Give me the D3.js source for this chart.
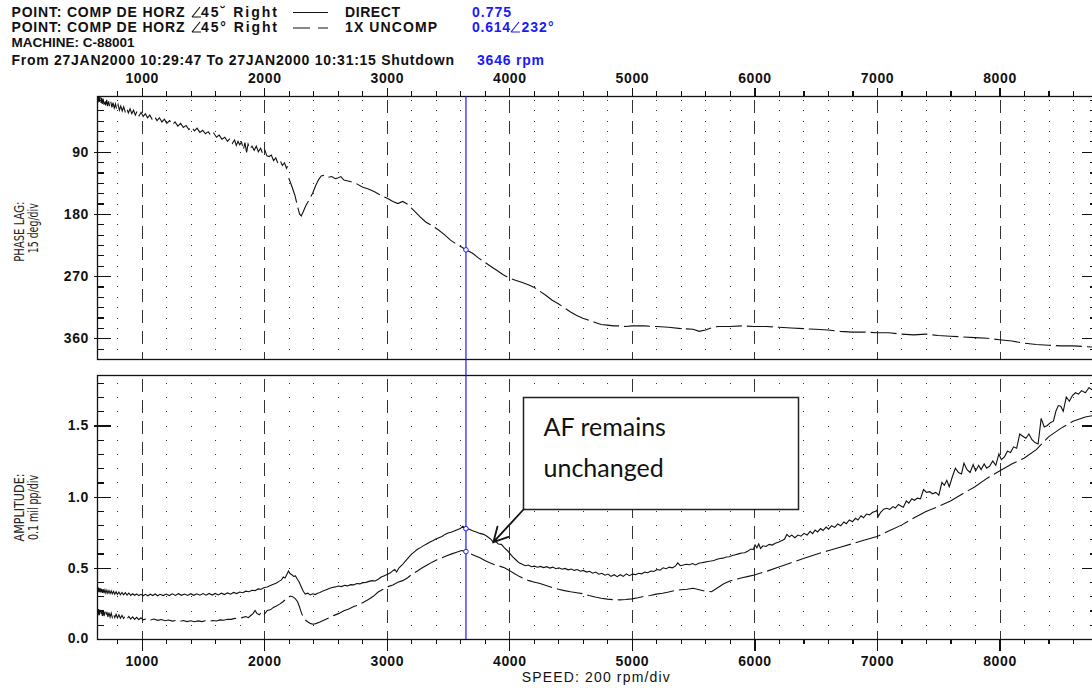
<!DOCTYPE html>
<html>
<head>
<meta charset="utf-8">
<script src="https://cdn.jsdelivr.net/npm/d3@7"></script>
<style>
  body { margin: 0; background: #fff; }
  svg { display: block; }
</style>
</head>
<body>
<svg id="chart" width="1092" height="688"></svg>
<script>
//// DATA

const SPEED_LABELS = [1000, 2000, 3000, 4000, 5000, 6000, 7000, 8000];
const PHASE_LABELS = [90, 180, 270, 360];
const AMP_LABELS = [0.0, 0.5, 1.0, 1.5];

const SPEED_DIV = 200;   // rpm/div
const PHASE_DIV = 15;    // deg/div
const AMP_DIV = 0.1;     // mil pp/div

const CURSOR_RPM = 3646;
const CURSOR_DIRECT = 0.775;
const CURSOR_UNCOMP = 0.614;
const CURSOR_PHASE = 232;

const NOTE_LINES = ["AF remains", "unchanged"];
const NOTE_TARGET = [3870, 0.68];   // rpm, amplitude the arrow points at

// 1X phase lag (deg) vs speed (rpm); null = gap in the record
const PHASE_1X = [
  [637,10],[642,19],[648,9],[654,18],[660,11],[666,20],[672,12],[678,21],[685,13],[692,22],
  [699,14],[706,23],[714,15],[722,24],[730,17],[739,25],[748,18],[757,26],[766,19],[776,27],
  [786,21],[796,29],[807,22],[818,30],[829,24],[841,31],[853,25],[865,32],[878,27],[891,34],
  [905,28],[919,35],[933,30],[948,37],[963,31],[979,38],[995,33],[1012,39],[1030,35],[1048,41],
  [1066,37],[1085,43],[1105,39],[1125,45],[1145,41],[1165,47],[1185,43],[1205,49],[1228,45],[1250,51],
  [1272,47],[1295,53],[1318,49],[1340,55],[1362,52],[1385,58],[1408,54],[1430,60],[1452,56],[1475,62],
  [1498,59],[1520,64],[1543,61],[1566,67],[1588,63],[1610,69],[1632,66],[1655,72],[1678,69],[1700,75],
  [1720,71],[1740,78],[1758,73],[1772,81],[1786,75],[1800,80],[1815,76],[1830,87],[1842,77],[1856,91],
  [1868,79],[1882,86],[1900,82],[1918,88],[1935,82],[1952,90],[1970,85],[1988,93],[2005,88],[2022,96],
  [2040,97],[2058,95],[2076,103],[2094,99],[2112,107],[2130,103],[2148,110],[2165,106],[2182,114],[2190,111],
  [2195,null],
  [2200,128],[2225,140],[2250,153],[2270,168],[2288,180],[2302,183],[2318,177],[2340,168],[2365,160],[2395,150],
  [2420,139],[2445,130],[2465,125],[2490,124],[2520,127],[2550,126],[2580,129],[2600,128],[2625,126],[2650,131],
  [2700,133],[2750,136],[2800,141],[2850,144],[2900,148],[2950,153],[3000,157],[3050,162],[3090,165],[3130,162],
  [3170,166],[3220,175],[3270,184],[3320,192],[3370,197],[3420,203],[3470,210],[3520,218],[3570,224],[3610,228],
  [3646,232],[3700,237],[3750,244],[3800,250],[3850,256],[3900,262],[3950,268],[4000,273],[4050,276],[4100,279],
  [4150,282],[4200,286],[4250,292],[4300,298],[4350,305],[4400,310],[4450,316],[4500,322],[4550,327],[4600,331],
  [4650,334],[4700,337],[4750,340],[4800,341],[4850,342],[4900,342],[4950,343],[5000,342],[5100,342],[5200,343],
  [5300,344],[5400,346],[5500,347],[5550,350],[5600,348],[5650,345],[5700,343],[5800,343],[5900,342],[6000,343],
  [6100,343],[6200,344],[6300,345],[6400,346],[6500,347],[6600,348],[6700,350],[6800,351],[6900,351],[7000,352],
  [7100,352],[7200,354],[7300,355],[7400,354],[7500,356],[7600,357],[7700,358],[7800,359],[7900,360],[8000,362],
  [8100,364],[8200,367],[8300,369],[8400,370],[8500,371],[8600,371],[8700,372],[8800,373]
];

// Direct (overall) amplitude, mil pp
const AMP_DIRECT = [
  [637,.36],[642,.328],[648,.362],[654,.33],[660,.358],[666,.328],[672,.352],[679,.324],[686,.35],[693,.323],
  [700,.346],[708,.322],[716,.343],[724,.321],[733,.34],[742,.319],[751,.338],[760,.317],[770,.335],[780,.315],
  [791,.332],[802,.313],[814,.33],[826,.311],[839,.327],[852,.31],[866,.325],[880,.308],[895,.323],[910,.306],
  [926,.318],[942,.307],[959,.316],[976,.305],[994,.314],[1012,.304],[1030,.314],[1050,.304],[1070,.315],[1090,.305],
  [1110,.316],[1130,.304],[1150,.314],[1175,.305],[1200,.316],[1225,.305],[1250,.317],[1275,.306],[1300,.318],[1325,.307],
  [1350,.316],[1375,.306],[1400,.318],[1425,.307],[1450,.318],[1475,.308],[1500,.319],[1525,.308],[1550,.32],[1575,.309],
  [1600,.32],[1625,.31],[1650,.322],[1675,.312],[1700,.324],[1725,.315],[1750,.327],[1775,.319],[1800,.33],[1825,.325],
  [1850,.336],[1875,.332],[1900,.342],[1925,.34],[1950,.352],[1975,.35],[2000,.362],[2025,.365],[2050,.376],[2075,.385],
  [2100,.393],[2120,.405],[2140,.415],[2155,.435],[2170,.428],[2185,.455],[2198,.478],[2210,.46],[2225,.452],[2240,.44],
  [2255,.443],[2270,.42],[2285,.4],[2300,.37],[2318,.335],[2335,.316],[2355,.322],[2375,.31],[2395,.318],[2415,.312],
  [2435,.322],[2455,.326],[2480,.338],[2505,.346],[2530,.355],[2555,.362],[2580,.366],[2605,.372],[2630,.368],[2655,.377],
  [2680,.373],[2705,.382],[2730,.38],[2755,.39],[2780,.387],[2805,.396],[2830,.398],[2855,.405],[2880,.41],[2905,.408],
  [2930,.42],[2955,.435],[2980,.445],[3005,.455],[3030,.465],[3050,.48],[3065,.488],[3080,.47],[3100,.5],[3125,.52],
  [3150,.545],[3175,.57],[3200,.595],[3225,.612],[3250,.63],[3275,.642],[3300,.656],[3325,.668],[3350,.68],[3375,.69],
  [3400,.702],[3425,.712],[3450,.72],[3475,.735],[3500,.745],[3525,.75],[3550,.758],[3575,.768],[3600,.776],[3620,.792],
  [3646,.775],[3670,.772],[3700,.76],[3730,.752],[3760,.742],[3790,.735],[3820,.72],[3850,.7],[3870,.68],[3890,.685],
  [3910,.668],[3935,.665],[3960,.64],[3985,.62],[4005,.6],[4030,.575],[4055,.555],[4080,.535],[4105,.525],[4130,.515],
  [4155,.52],[4180,.508],[4205,.512],[4230,.504],[4255,.51],[4280,.502],[4305,.508],[4330,.498],[4355,.505],[4380,.494],
  [4405,.5],[4430,.49],[4455,.496],[4480,.486],[4505,.492],[4530,.482],[4555,.488],[4580,.476],[4605,.482],[4630,.47],
  [4655,.476],[4680,.462],[4705,.47],[4730,.455],[4755,.462],[4780,.448],[4805,.456],[4830,.44],[4855,.452],[4880,.438],
  [4905,.452],[4930,.44],[4955,.458],[4980,.445],[5005,.456],[5030,.452],[5055,.462],[5080,.458],[5105,.47],[5130,.466],
  [5155,.478],[5180,.474],[5205,.488],[5230,.484],[5255,.5],[5280,.494],[5305,.505],[5330,.5],[5355,.512],[5375,.535],
  [5395,.515],[5420,.52],[5445,.525],[5470,.522],[5495,.53],[5520,.52],[5545,.532],[5570,.536],[5595,.54],[5620,.545],
  [5645,.548],[5670,.552],[5695,.56],[5720,.566],[5745,.568],[5770,.576],[5795,.578],[5820,.586],[5845,.592],[5870,.598],
  [5895,.604],[5920,.606],[5945,.616],[5970,.632],[5990,.628],[6005,.66],[6020,.64],[6035,.668],[6050,.636],[6070,.655],
  [6095,.65],[6120,.665],[6145,.66],[6170,.672],[6195,.68],[6220,.69],[6245,.7],[6265,.735],[6285,.718],[6305,.73],
  [6330,.712],[6355,.73],[6380,.722],[6405,.742],[6430,.73],[6455,.756],[6475,.74],[6495,.765],[6515,.752],[6540,.776],
  [6560,.762],[6585,.786],[6605,.772],[6630,.796],[6655,.784],[6680,.808],[6705,.795],[6730,.822],[6750,.81],[6775,.836],
  [6800,.824],[6825,.848],[6845,.836],[6870,.866],[6890,.852],[6915,.878],[6940,.872],[6965,.89],[6990,.898],[7000,.905],
  [7010,.86],[7030,.89],[7055,.912],[7080,.918],[7105,.91],[7130,.93],[7150,.92],[7175,.945],[7195,.935],[7215,.925],
  [7240,.97],[7260,.955],[7285,.985],[7305,.975],[7330,.99],[7355,.985],[7380,1.05],[7405,1.03],[7430,1.035],[7455,1.02],
  [7480,1.03],[7505,1.01],[7530,1.1],[7550,1.08],[7570,1.115],[7590,1.07],[7615,1.14],[7640,1.2],[7665,1.17],[7690,1.16],
  [7710,1.235],[7735,1.19],[7760,1.17],[7785,1.225],[7805,1.18],[7830,1.22],[7850,1.19],[7875,1.23],[7895,1.2],[7920,1.215],
  [7945,1.25],[7970,1.22],[7995,1.3],[8015,1.26],[8040,1.28],[8065,1.32],[8090,1.31],[8115,1.35],[8140,1.34],[8165,1.44],
  [8190,1.425],[8215,1.41],[8240,1.44],[8265,1.4],[8290,1.38],[8315,1.37],[8340,1.55],[8365,1.49],[8390,1.5],[8415,1.52],
  [8440,1.53],[8460,1.6],[8480,1.64],[8500,1.635],[8520,1.6],[8545,1.7],[8570,1.67],[8595,1.71],[8620,1.73],[8645,1.72],
  [8670,1.745],[8700,1.73],[8730,1.765],[8760,1.75],[8800,1.77]
];

// 1X uncompensated amplitude, mil pp
const AMP_1X = [
  [637,.205],[642,.165],[648,.21],[654,.168],[660,.205],[666,.165],[672,.2],[679,.162],[686,.197],[693,.16],
  [700,.193],[708,.158],[716,.19],[724,.156],[733,.186],[742,.154],[751,.182],[760,.152],[770,.178],[780,.15],
  [791,.174],[802,.148],[814,.17],[826,.146],[839,.166],[852,.144],[866,.162],[880,.142],[895,.158],[910,.14],
  [926,.155],[942,.138],[959,.152],[976,.136],[994,.149],[1012,.135],[1040,.143],[1070,.133],[1100,.14],[1130,.131],
  [1160,.137],[1190,.128],[1220,.133],[1250,.126],[1280,.131],[1310,.124],[1340,.13],[1370,.122],[1400,.128],[1430,.121],
  [1460,.127],[1490,.122],[1520,.128],[1550,.124],[1580,.13],[1610,.127],[1640,.134],[1670,.132],[1700,.139],[1730,.138],
  [1760,.145],[1790,.143],[1820,.15],[1850,.158],[1870,.15],[1890,.165],[1910,.18],[1925,.2],[1940,.18],[1960,.17],
  [1980,.19],[2000,.172],[2025,.2],[2050,.205],[2075,.222],[2100,.232],[2125,.245],[2150,.26],[2175,.278],[2200,.295],
  [2215,.302],[2235,.296],[2255,.282],[2272,.262],[2288,.225],[2305,.18],[2322,.148],[2340,.13],[2360,.118],[2380,.108],
  [2400,.104],[2420,.108],[2450,.118],[2490,.134],[2530,.15],[2570,.166],[2610,.18],[2650,.198],[2690,.21],[2730,.228],
  [2770,.24],[2810,.258],[2850,.278],[2890,.3],[2930,.33],[2970,.35],[3010,.368],[3050,.38],[3090,.398],[3130,.41],
  [3170,.43],[3210,.458],[3250,.478],[3290,.5],[3330,.52],[3370,.54],[3410,.556],[3450,.57],[3490,.585],[3530,.598],
  [3570,.61],[3610,.622],[3646,.614],[3680,.6],[3720,.585],[3760,.57],[3800,.552],[3840,.536],[3880,.522],[3920,.512],
  [3960,.5],[4000,.482],[4040,.46],[4080,.44],[4120,.425],[4160,.41],[4200,.4],[4250,.39],[4300,.376],[4350,.362],
  [4400,.35],[4450,.34],[4500,.332],[4550,.325],[4600,.318],[4650,.305],[4700,.295],[4750,.286],[4800,.28],[4850,.276],
  [4900,.275],[4950,.278],[5000,.282],[5050,.29],[5100,.3],[5150,.306],[5200,.315],[5250,.322],[5300,.33],[5350,.34],
  [5400,.346],[5450,.35],[5500,.356],[5550,.346],[5600,.336],[5650,.332],[5700,.36],[5750,.388],[5800,.408],[5850,.42],
  [5900,.43],[5950,.44],[6000,.45],[6100,.476],[6200,.506],[6300,.536],[6400,.566],[6500,.594],[6600,.62],[6700,.645],
  [6800,.67],[6900,.695],[7000,.72],[7100,.76],[7200,.8],[7300,.85],[7400,.895],[7500,.93],[7600,.97],[7700,1.02],
  [7800,1.07],[7900,1.13],[8000,1.18],[8100,1.23],[8200,1.27],[8300,1.33],[8400,1.42],[8500,1.48],[8600,1.53],[8700,1.56],
  [8800,1.575]
];

//// LAYOUT

const PLOT_LEFT = 97, PLOT_RIGHT = 1097;
const PHASE_TOP = 96, PHASE_BOTTOM = 359;
const AMP_TOP = 375, AMP_BOTTOM = 639;
const BLUE = "#1a1aff";
const TICK_FONT = "'Liberation Sans', Arial, sans-serif";

const x = d3.scaleLinear().domain([1000, 8000]).range([141.7, 999.5]);
const yPhase = d3.scaleLinear().domain([90, 360]).range([151.7, 338.3]);
const yAmp = d3.scaleLinear().domain([0, 1.5]).range([639, 425.5]);

const xMinor = d3.range(800, 8801, SPEED_DIV);
const phaseMinor = d3.range(PHASE_DIV, 376, PHASE_DIV);
const ampMinor = d3.range(1, 19).map(i => +(i * AMP_DIV).toFixed(1));

const svg = d3.select("#chart");
svg.append("rect").attr("width", 1092).attr("height", 688).attr("fill", "#fff");

const defs = svg.append("defs");
[["clip-phase", PHASE_TOP, PHASE_BOTTOM], ["clip-amp", AMP_TOP, AMP_BOTTOM]].forEach(([id, t, b]) => {
  defs.append("clipPath").attr("id", id).append("rect")
    .attr("x", PLOT_LEFT).attr("y", t).attr("width", PLOT_RIGHT - PLOT_LEFT).attr("height", b - t);
});

//// GRID (dotted every division, dashed every 1000 rpm)

const drawGrid = (top, bottom, yScale, rows) => {
  const g = svg.append("g").attr("shape-rendering", "crispEdges");
  const cols = xMinor.filter(v => v % 1000 !== 0 && x(v) > PLOT_LEFT && x(v) < PLOT_RIGHT);
  const dots = [];
  cols.forEach(c => rows.forEach(r => dots.push([c, r])));
  g.selectAll(".dot").data(dots).join("rect")
    .attr("class", "dot")
    .attr("x", d => Math.round(x(d[0])))
    .attr("y", d => Math.round(yScale(d[1])))
    .attr("width", 1.4).attr("height", 1.4)
    .attr("fill", "#333");
  g.selectAll(".vdash").data(SPEED_LABELS).join("line")
    .attr("class", "vdash")
    .attr("x1", d => Math.round(x(d)) + 0.5).attr("x2", d => Math.round(x(d)) + 0.5)
    .attr("y1", top + 4).attr("y2", bottom)
    .attr("stroke", "#333").attr("stroke-width", 1.5)
    .attr("stroke-dasharray", "13 8");
};
drawGrid(PHASE_TOP, PHASE_BOTTOM, yPhase, phaseMinor);
drawGrid(AMP_TOP, AMP_BOTTOM, yAmp, ampMinor);

//// CURVES

const lineOf = yScale => d3.line()
  .defined(d => d[1] != null)
  .x(d => x(d[0]))
  .y(d => yScale(d[1]));

svg.append("path").datum(PHASE_1X)
  .attr("clip-path", "url(#clip-phase)")
  .attr("d", lineOf(yPhase))
  .attr("fill", "none").attr("stroke", "#111").attr("stroke-width", 1.1)
  .attr("stroke-dasharray", "26 5");

svg.append("path").datum(AMP_DIRECT)
  .attr("clip-path", "url(#clip-amp)")
  .attr("d", lineOf(yAmp))
  .attr("fill", "none").attr("stroke", "#111").attr("stroke-width", 1.1);

svg.append("path").datum(AMP_1X)
  .attr("clip-path", "url(#clip-amp)")
  .attr("d", lineOf(yAmp))
  .attr("fill", "none").attr("stroke", "#111").attr("stroke-width", 1.1)
  .attr("stroke-dasharray", "26 5");

//// FRAMES AND AXES

[[PHASE_TOP, PHASE_BOTTOM], [AMP_TOP, AMP_BOTTOM]].forEach(([t, b]) => {
  svg.append("rect")
    .attr("x", PLOT_LEFT + 0.5).attr("y", t + 0.5)
    .attr("width", PLOT_RIGHT - PLOT_LEFT).attr("height", b - t)
    .attr("fill", "none").attr("stroke", "#111").attr("stroke-width", 1.3);
});

const styleAxis = sel => {
  sel.select(".domain").remove();
  sel.attr("shape-rendering", "crispEdges");
  sel.selectAll("line").attr("stroke", "#111").attr("stroke-width", 1.2);
  sel.selectAll("text")
    .attr("font-family", TICK_FONT).attr("font-size", 14).attr("font-weight", "bold")
    .attr("letter-spacing", 0.6).attr("fill", "#111");
};

// speed axis above the phase plot
svg.append("g").attr("transform", `translate(0,${PHASE_TOP})`)
  .call(d3.axisTop(x).tickValues(xMinor).tickSize(5).tickFormat("")).call(styleAxis);
svg.append("g").attr("transform", `translate(0,${PHASE_TOP})`)
  .call(d3.axisTop(x).tickValues(SPEED_LABELS).tickSize(8).tickPadding(5).tickFormat(d3.format("d")))
  .call(styleAxis);

// speed axis below the amplitude plot
svg.append("g").attr("transform", `translate(0,${AMP_BOTTOM})`)
  .call(d3.axisBottom(x).tickValues(xMinor).tickSize(5).tickFormat("")).call(styleAxis);
svg.append("g").attr("transform", `translate(0,${AMP_BOTTOM})`)
  .call(d3.axisBottom(x).tickValues(SPEED_LABELS).tickSize(12).tickPadding(5).tickFormat(d3.format("d")))
  .call(styleAxis);

// vertical axes: small ticks inside, long ticks crossing the frame
const drawYAxes = (yScale, minor, labels, fmt) => {
  svg.append("g").attr("transform", `translate(${PLOT_LEFT},0)`)
    .call(d3.axisRight(yScale).tickValues(minor).tickSize(7).tickFormat("")).call(styleAxis);
  const major = svg.append("g").attr("transform", `translate(${PLOT_LEFT},0)`)
    .call(d3.axisLeft(yScale).tickValues(labels).tickSizeInner(-14).tickSizeOuter(0).tickPadding(8).tickFormat(fmt))
    .call(styleAxis);
  major.selectAll("line").attr("x1", -3);
  svg.append("g").attr("transform", `translate(${PLOT_RIGHT},0)`)
    .call(d3.axisLeft(yScale).tickValues(minor).tickSize(7).tickFormat("")).call(styleAxis);
  svg.append("g").attr("transform", `translate(${PLOT_RIGHT},0)`)
    .call(d3.axisLeft(yScale).tickValues(labels).tickSize(15).tickFormat("")).call(styleAxis);
};
drawYAxes(yPhase, phaseMinor.filter(v => !PHASE_LABELS.includes(v)), PHASE_LABELS, d3.format("d"));
drawYAxes(yAmp, ampMinor.filter(v => !AMP_LABELS.includes(v)), AMP_LABELS.filter(v => v > 0), d3.format(".1f"));
// 0.0 label sits on the bottom frame
svg.append("text").attr("x", PLOT_LEFT - 8).attr("y", yAmp(0)).attr("dy", "0.32em")
  .attr("text-anchor", "end").attr("font-family", TICK_FONT).attr("font-size", 14)
  .attr("font-weight", "bold").attr("letter-spacing", 0.6).attr("fill", "#111")
  .text(d3.format(".1f")(AMP_LABELS[0]));

//// AXIS TITLES

const NARROW = "'Liberation Sans Narrow', 'Arial Narrow', 'DejaVu Sans Condensed', sans-serif";
const vTitle = (bx, cy, str, len) => {
  svg.append("text")
    .attr("transform", `translate(${bx},${cy}) rotate(-90)`)
    .attr("text-anchor", "middle")
    .attr("font-family", NARROW).attr("font-size", 14)
    .attr("textLength", len).attr("lengthAdjust", "spacingAndGlyphs")
    .attr("fill", "#222").text(str);
};
vTitle(23.5, 231.7, "PHASE LAG:", 60);
vTitle(37.5, 228.3, "15 deg/div", 50);
vTitle(23.5, 507.5, "AMPLITUDE:", 68);
vTitle(37.5, 507.5, "0.1 mil pp/div", 65);

svg.append("text").attr("x", 521.7).attr("y", 682)
  .attr("font-family", TICK_FONT).attr("font-size", 14).attr("fill", "#111")
  .attr("textLength", 148).attr("lengthAdjust", "spacing")
  .text(`SPEED: ${SPEED_DIV} rpm/div`);

//// CURSOR

const cx = x(CURSOR_RPM);
svg.append("line")
  .attr("x1", cx).attr("x2", cx).attr("y1", PHASE_TOP).attr("y2", AMP_BOTTOM)
  .attr("stroke", BLUE).attr("stroke-width", 1.2);
[[yPhase(CURSOR_PHASE)], [yAmp(CURSOR_DIRECT)], [yAmp(CURSOR_UNCOMP)]].forEach(([cy]) => {
  svg.append("circle").attr("cx", cx).attr("cy", cy).attr("r", 2.3)
    .attr("fill", "#fff").attr("stroke", BLUE).attr("stroke-width", 1);
});

//// HEADER

const HEAD_FONT = "'Liberation Sans', Arial, sans-serif";
const head = (hx, hy, str, len, color, size) => {
  const t = svg.append("text").attr("x", hx).attr("y", hy)
    .attr("font-family", HEAD_FONT).attr("font-size", size || 14).attr("font-weight", "bold")
    .attr("fill", color || "#111").text(str);
  if (len) t.attr("textLength", len).attr("lengthAdjust", "spacing");
  return t;
};
const angle = (ax, ay, color) => {
  svg.append("path")
    .attr("d", `M${ax},${ay} L${ax + 8},${ay - 10} M${ax},${ay} L${ax + 9},${ay}`)
    .attr("fill", "none").attr("stroke", color || "#111").attr("stroke-width", 1.2);
};

head(11.5, 17, "POINT: COMP DE HORZ", 173);
angle(192, 17);
head(201, 17, "45\u02D8 Right", 76);
svg.append("line").attr("x1", 293).attr("x2", 328).attr("y1", 12.5).attr("y2", 12.5)
  .attr("stroke", "#111").attr("stroke-width", 1.2);
head(345, 17, "DIRECT", 55);
head(472, 17, CURSOR_DIRECT.toFixed(3), 39, BLUE);

head(11.5, 32, "POINT: COMP DE HORZ", 173);
angle(192, 32);
head(201, 32, "45\u00B0 Right", 76);
svg.append("line").attr("x1", 293).attr("x2", 328).attr("y1", 28).attr("y2", 28)
  .attr("stroke", "#111").attr("stroke-width", 1.2).attr("stroke-dasharray", "17 8");
head(345, 32, "1X UNCOMP", 92);
head(472, 32, CURSOR_UNCOMP.toFixed(3), 38, BLUE);
angle(511, 32, BLUE);
head(521.5, 32, `${CURSOR_PHASE}\u00B0`, 32, BLUE);

head(11.5, 46.7, "MACHINE: C-88001", null, null, 13.5);
head(11.5, 65, "From 27JAN2000 10:29:47 To 27JAN2000 10:31:15 Shutdown", 442.5);
head(477, 65, `${CURSOR_RPM} rpm`, 67, BLUE);

//// CALLOUT

const BOX = { x: 523.5, y: 397.5, w: 275, h: 112 };
svg.append("rect").attr("x", BOX.x).attr("y", BOX.y).attr("width", BOX.w).attr("height", BOX.h)
  .attr("fill", "#fff").attr("stroke", "#222").attr("stroke-width", 1.5);
svg.append("text").attr("x", BOX.x + 20).attr("y", BOX.y + 38)
  .attr("font-family", "Lato, 'Open Sans', sans-serif").attr("font-size", 25).attr("fill", "#111")
  .selectAll("tspan").data(NOTE_LINES).join("tspan")
  .attr("x", BOX.x + 20).attr("dy", (d, i) => i ? 41 : 0)
  .text(d => d);

const tip = [x(NOTE_TARGET[0]), yAmp(NOTE_TARGET[1])];
const tail = [BOX.x, BOX.y + BOX.h];
const ang = Math.atan2(tail[1] - tip[1], tail[0] - tip[0]);
const barb = (a) => [tip[0] + 16 * Math.cos(ang + a), tip[1] + 16 * Math.sin(ang + a)];
const b1 = barb(0.49), b2 = barb(-0.49);
svg.append("path")
  .attr("d", `M${tail[0]},${tail[1]} L${tip[0]},${tip[1]} M${b1[0]},${b1[1]} L${tip[0]},${tip[1]} L${b2[0]},${b2[1]}`)
  .attr("fill", "none").attr("stroke", "#111").attr("stroke-width", 1.8).attr("stroke-linecap", "round");
</script>
</body>
</html>
